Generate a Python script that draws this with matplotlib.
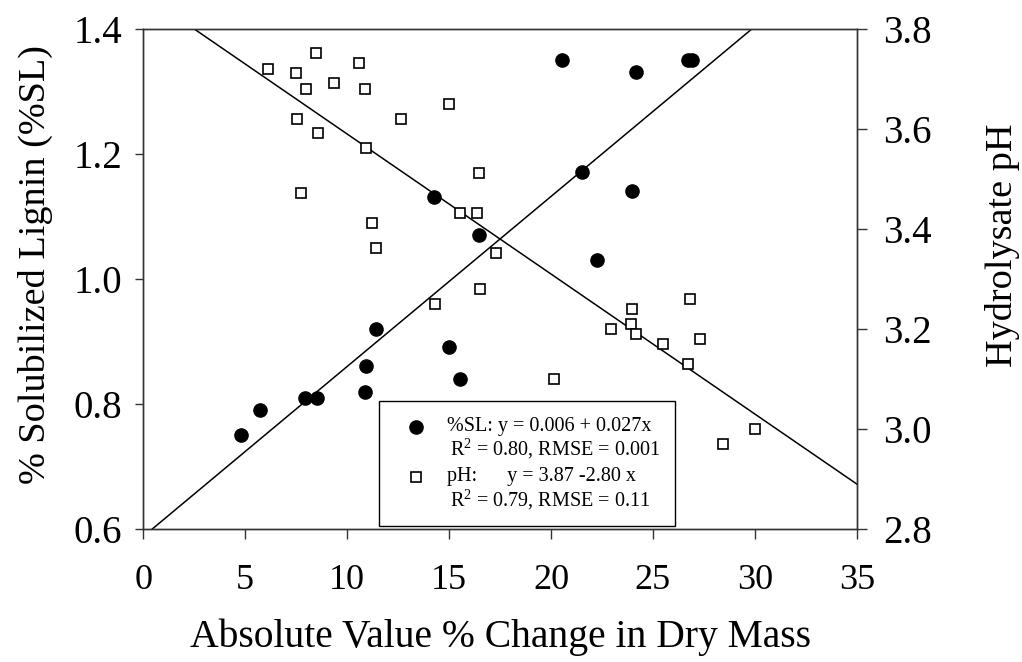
import numpy as np
import matplotlib
matplotlib.use("Agg")
import matplotlib.pyplot as plt
from matplotlib.patches import Rectangle

plt.rcParams['font.family'] = ['Liberation Serif', 'DejaVu Serif']
plt.rcParams['mathtext.fontset'] = 'custom'
plt.rcParams['mathtext.rm'] = 'Liberation Serif'

# Solubilized lignin (%SL) vs. absolute % change in dry mass
sl_x = [4.78, 5.74, 7.94, 8.51, 10.93, 10.90, 11.41, 14.28, 15.00,
        15.54, 16.47, 20.52, 21.52, 22.26, 23.99, 24.17, 26.70, 26.90]
sl_y = [0.750, 0.790, 0.810, 0.810, 0.861, 0.820, 0.920, 1.131, 0.891,
        0.840, 1.070, 1.350, 1.171, 1.031, 1.140, 1.331, 1.350, 1.350]

# Hydrolysate pH vs. absolute % change in dry mass
ph_x = [6.11, 8.49, 10.57, 7.50, 7.97, 9.36, 10.88, 12.64, 7.55, 8.59,
        10.93, 7.76, 11.23, 11.41, 14.29, 15.01, 16.47, 15.55, 16.37, 17.28,
        16.54, 20.15, 22.95, 23.96, 23.93, 24.16, 25.48, 26.83, 27.32, 26.71,
        30.03, 28.46]
ph_y = [3.720, 3.751, 3.731, 3.711, 3.680, 3.691, 3.680, 3.620, 3.620, 3.591,
        3.561, 3.471, 3.411, 3.361, 3.251, 3.650, 3.511, 3.431, 3.431, 3.351,
        3.281, 3.101, 3.201, 3.241, 3.211, 3.191, 3.171, 3.261, 3.181, 3.131,
        3.001, 2.970]

# fitted lines (intercept, slope)
sl_fit = (0.588, 0.0272)
ph_fit = (3.87, -0.028)

fig = plt.figure(figsize=(10.22, 6.62), dpi=100)
ax = fig.add_axes([0.1402, 0.2009, 0.6981, 0.7553])
ax2 = ax.twinx()

xx = np.array([0, 35])
ax.plot(xx, sl_fit[0] + sl_fit[1] * xx, color='black', lw=1.1, zorder=2)
ax.plot(sl_x, sl_y, 'o', color='black', ms=9.5, mec='black', zorder=3)

ax2.plot(xx, ph_fit[0] + ph_fit[1] * xx, color='black', lw=1.1, zorder=2)
ax2.plot(ph_x, ph_y, 's', mfc='white', mec='black', mew=1.2, ms=7.8, zorder=3)

ax.set_xlim(0, 35)
ax.set_ylim(0.6, 1.4)
ax2.set_ylim(2.8, 3.8)
ax.set_xticks(np.arange(0, 36, 5))
ax.set_yticks(np.arange(0.6, 1.41, 0.2))
ax2.set_yticks(np.arange(2.8, 3.81, 0.2))
ax.yaxis.set_major_formatter(matplotlib.ticker.FormatStrFormatter('%.1f'))
ax2.yaxis.set_major_formatter(matplotlib.ticker.FormatStrFormatter('%.1f'))

for a in (ax, ax2):
    for s in a.spines.values():
        s.set_color('#333333')
        s.set_linewidth(1.0)
ax.tick_params(axis='x', direction='out', length=7, width=1, labelsize=26,
               pad=18, color='#333333')
ax.tick_params(axis='y', direction='out', length=6, width=1, labelsize=28,
               pad=9, color='#333333')
ax2.tick_params(axis='y', direction='out', length=7, width=1, labelsize=28,
                pad=12, color='#333333')

ax.set_xlabel('Absolute Value % Change in Dry Mass', fontsize=28.5, labelpad=16)
ax.set_ylabel('% Solubilized Lignin (%SL)', fontsize=27.5, labelpad=15)
ax2.set_ylabel('Hydrolysate pH', fontsize=27.5, labelpad=38)
# axis titles sit a little above the middle of the axes
ax.yaxis.label.set_y(0.528)
ax2.yaxis.label.set_y(0.568)

# equation box
box = Rectangle((0.3308, 0.006), 0.4145, 0.25, transform=ax2.transAxes,
                facecolor='white', edgecolor='black', lw=1.0, zorder=10)
ax2.add_patch(box)
ax2.plot([0.382], [0.205], 'o', color='black', ms=9.5, transform=ax2.transAxes,
         zorder=11, clip_on=False)
ax2.plot([0.382], [0.105], 's', mfc='white', mec='black', mew=1.2, ms=7.8,
         transform=ax2.transAxes, zorder=11, clip_on=False)
lines = [
    (0.425, 0.205, '%SL: y = 0.006 + 0.027x'),
    (0.430, 0.160, 'R$^2$ = 0.80, RMSE = 0.001'),
    (0.425, 0.105, 'pH:      y = 3.87 -2.80 x'),
    (0.430, 0.058, 'R$^2$ = 0.79, RMSE = 0.11'),
]
for tx, ty, s in lines:
    ax2.text(tx, ty, s, transform=ax2.transAxes, fontsize=14.5, va='center',
             ha='left', zorder=12)

fig.savefig('out.png', dpi=100)
